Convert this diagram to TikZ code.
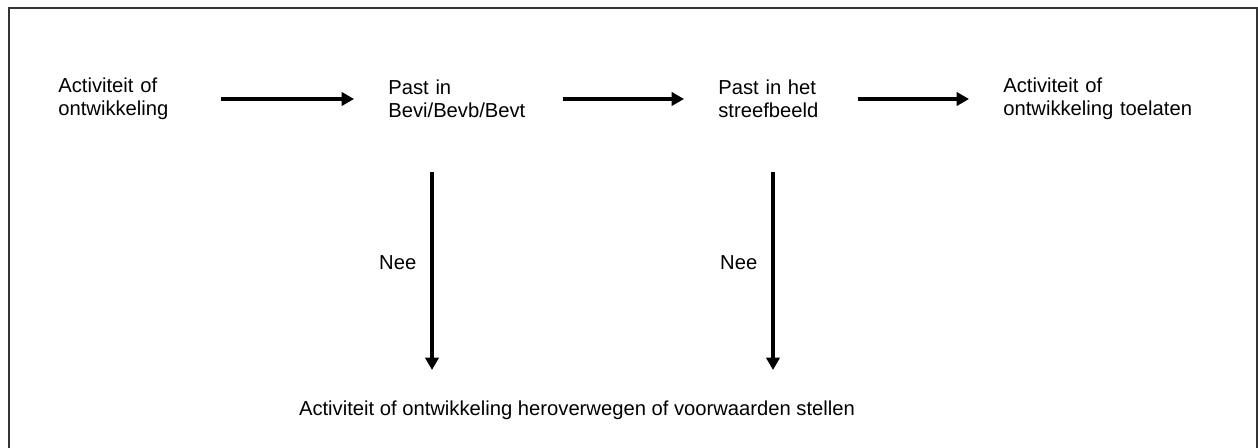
\documentclass[tikz,border=0pt]{standalone}
\usepackage{fontspec}
\setmainfont{Liberation Sans}
\usetikzlibrary{arrows.meta}

\begin{document}
\begin{tikzpicture}[x=0.02cm, y=-0.02cm,
  every node/.style={font=\fontsize{11.5}{13}\selectfont, inner sep=0pt},
  stap/.style={anchor=west, align=left},
  pijl/.style={-{Triangle[length=7pt,width=7.5pt]}, line width=2pt},
  naar/.style={pijl, shorten >=0.68cm}]
  \useasboundingbox (0,0) rectangle (1258,448);
  \draw[line width=1.5pt, black!80] (9,448) -- (9,8) -- (1257,8) -- (1257,448);

  % bovenste rij
  \node[stap, text width=3.24cm] (activiteit) at (58,99) {Activiteit of\\ontwikkeling};
  \node[stap, text width=3.48cm] (bevi) at (388,99) {Past in\\Bevi/Bevb/Bevt};
  \node[stap, text width=2.78cm] (streefbeeld) at (718,99) {Past in het\\streefbeeld};
  \node[stap, text width=4.2cm] (toelaten) at (1003,99) {Activiteit of\\ontwikkeling toelaten};
  \draw[naar] (activiteit.east) -- (bevi.west);
  \draw[naar] (bevi.east) -- (streefbeeld.west);
  \draw[naar] (streefbeeld.east) -- (toelaten.west);

  % nee-takken
  \node (heroverwegen) at (577,410) {Activiteit of ontwikkeling heroverwegen of voorwaarden stellen};
  \coordinate (nee1) at (432,172);
  \coordinate (nee1eind) at (432,370);
  \coordinate (nee2) at (773,172);
  \coordinate (nee2eind) at (773,370);
  \draw[pijl] (nee1) -- node[pos=0.46, left=0.28cm] (neelinks) {Nee} (nee1eind);
  \draw[pijl] (nee2) -- node[pos=0.46, left=0.28cm] (neerechts) {Nee} (nee2eind);
\end{tikzpicture}
\end{document}
